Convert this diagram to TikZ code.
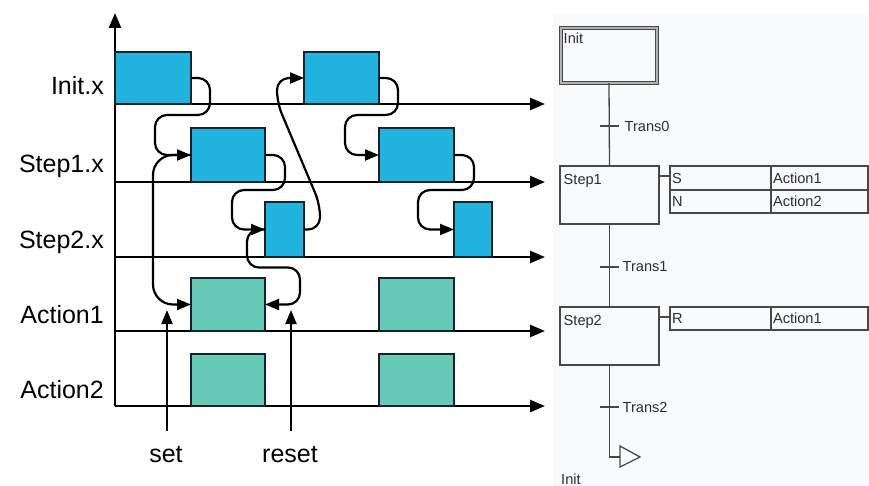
\documentclass[tikz,border=0pt]{standalone}
\usepackage{fontspec}
\setmainfont{Liberation Sans}
\usetikzlibrary{arrows.meta}
\definecolor{pulse}{HTML}{22B4DE}
\definecolor{act}{HTML}{66C9B5}
\definecolor{edge}{HTML}{14232B}
\definecolor{panel}{HTML}{F8FAFC}
\definecolor{sfcline}{HTML}{484848}
\definecolor{sfctxt}{HTML}{2E2E2E}
\newcommand{\sigfont}{\fontsize{25pt}{30pt}\selectfont}
\newcommand{\sfcfont}{\fontsize{14.6pt}{17pt}\selectfont}
\begin{document}
\begin{tikzpicture}[x=1pt,y=-1pt,
  sig/.style={font=\sigfont, inner sep=0pt, text=black},
  axis/.style={line width=2.6pt, draw=black, -{Triangle[length=15pt,width=12pt]}},
  pulsebox/.style={draw=edge, line width=2.4pt, fill=pulse, anchor=south west,
                   inner sep=0pt, outer sep=0pt},
  actbox/.style={pulsebox, fill=act},
  flow/.style={line width=2.2pt, rounded corners=12pt,
               -{Triangle[length=14pt,width=11pt]}},
  sfc/.style={draw=sfcline, line width=1.3pt},
  sfct/.style={font=\sfcfont, text=sfctxt},
  stepbox/.style={draw=sfcline, line width=1.3pt, fill=panel, anchor=north west,
                  inner sep=0pt, outer sep=0pt},
  steplbl/.style={sfct, anchor=north west, inner xsep=3.5pt, inner ysep=8pt},
  cell/.style={draw=sfcline, line width=1.3pt, fill=panel, anchor=north west,
               inner xsep=2pt, inner ysep=0pt, outer sep=0pt, align=left, sfct},
  trl/.style={sfct, anchor=west, inner xsep=3.5pt, inner ysep=0pt}]
\useasboundingbox (0,0) rectangle (869,486);

% ---------------- timing chart ----------------
\coordinate (o)    at (115,406);
\coordinate (ytop) at (115,13);
\foreach \n/\y in {ax0/104, ax1/182, ax2/257, ax3/331, ax4/406}{
  \coordinate (\n s) at (115,\y);
  \coordinate (\n e) at (545,\y);
}
\draw[axis] (o) -- (ytop);
\foreach \n in {ax0,ax1,ax2,ax3,ax4}{
  \draw[axis] (\n s) -- (\n e);
}

% signal names
\node[sig, anchor=base east] (lInit)  at (104,95)  {Init.x};
\node[sig, anchor=base east] (lStep1) at (104,173) {Step1.x};
\node[sig, anchor=base east] (lStep2) at (104,248) {Step2.x};
\node[sig, anchor=base east] (lAct1)  at (104,323) {Action1};
\node[sig, anchor=base east] (lAct2)  at (104,398) {Action2};

% step activity pulses
\node[pulsebox, minimum width=76pt, minimum height=52pt] (i1) at (115,104) {};
\node[pulsebox, minimum width=75pt, minimum height=52pt] (i2) at (304,104) {};
\node[pulsebox, minimum width=74pt, minimum height=54pt] (s1) at (191,182) {};
\node[pulsebox, minimum width=75pt, minimum height=54pt] (s2) at (379,182) {};
\node[pulsebox, minimum width=39pt, minimum height=55pt] (t1) at (265,257) {};
\node[pulsebox, minimum width=38pt, minimum height=55pt] (t2) at (454,257) {};

% action pulses
\node[actbox, minimum width=74pt, minimum height=53pt] (a1) at (191,331) {};
\node[actbox, minimum width=75pt, minimum height=53pt] (a2) at (379,331) {};
\node[actbox, minimum width=74pt, minimum height=52pt] (b1) at (191,406) {};
\node[actbox, minimum width=75pt, minimum height=52pt] (b2) at (379,406) {};

% causal links between pulses
\draw[flow] (i1.east) -- ++(19,0) -- ++(0,37) -- ++(-55,0) |- (s1.west);
\draw[flow] (i2.east) -- ++(19,0) -- ++(0,37) -- ++(-53,0) |- (s2.west);
\draw[flow] (s1.east) -- ++(20,0) -- ++(0,35) -- ++(-53,0) |- (t1.west);
\draw[flow] (s2.east) -- ++(20,0) -- ++(0,35) -- ++(-56,0) |- (t2.west);
\draw[flow] (t1.east) -- ++(16,0) -- ++(0,-25) -- ++(-43,-102) |- (i2.west);
\draw[flow, rounded corners=20pt] (s1.west) -- ++(-38,0) |- (a1.west);
\draw[flow] (t1.west) -- ++(-18,0) -- ++(0,38) -- ++(53,0) |- (a1.east);

% set / reset markers
\node[sig, anchor=base] (setl)   at (166,462) {set};
\node[sig, anchor=base] (resetl) at (290,462) {reset};
\coordinate (settip)   at (167,310);
\coordinate (resettip) at (291,310);
\draw[flow] ([yshift=15pt]setl.north -| settip) -- (settip);
\draw[flow] ([yshift=15pt]resetl.north -| resettip) -- (resettip);

% ---------------- SFC ----------------
\fill[panel] (553,15) rectangle (869,486);

\node[stepbox, line width=0.9pt, double=gray!60, double distance=2.4pt,
      minimum width=96pt, minimum height=55pt,
      label={[sfct, anchor=north west, inner xsep=2.5pt, inner ysep=5pt]north west:Init}]
      (init) at (561,28) {};
\node[stepbox, minimum width=99pt, minimum height=58pt,
      label={[steplbl]north west:Step1}] (st1) at (560,166) {};
\node[stepbox, minimum width=99pt, minimum height=58pt,
      label={[steplbl]north west:Step2}] (st2) at (560,307) {};

% action blocks
\node[cell, text width=97pt, minimum height=24pt] (c11) at (670,166) {S};
\node[cell, text width=93pt, minimum height=24pt] (c12) at (771,166) {Action1};
\node[cell, text width=97pt, minimum height=23pt] (c21) at (670,190) {N};
\node[cell, text width=93pt, minimum height=23pt] (c22) at (771,190) {Action2};
\node[cell, text width=97pt, minimum height=23pt] (r1)  at (670,307) {R};
\node[cell, text width=93pt, minimum height=23pt] (r2)  at (771,307) {Action1};

\draw[sfc] ([yshift=-10pt]st1.north east) -- ([yshift=-10pt]c11.north west);
\draw[sfc] ([yshift=-10pt]st2.north east) -- ([yshift=-10pt]r1.north west);

% step links and transitions
\draw[sfc] (init.south) -- (st1.north);
\draw[sfc] (st1.south) -- (st2.north);
\coordinate (tr0) at (609.5,126);
\coordinate (tr1) at (609.5,267);
\coordinate (tr2) at (609.5,407);
\draw[sfc] ([xshift=-10pt]tr0) -- ([xshift=9pt]tr0) node[trl, xshift=2pt] (tr0l) {Trans0};
\draw[sfc] ([xshift=-10pt]tr1) -- ([xshift=9pt]tr1) node[trl] (tr1l) {Trans1};
\draw[sfc] ([xshift=-10pt]tr2) -- ([xshift=9pt]tr2) node[trl] (tr2l) {Trans2};

% jump back to the initial step
\coordinate (jmp) at (620,457);
\draw[sfc] (st2.south) |- (jmp);
\draw[sfc, fill=panel, line join=miter] (jmp) ++(0,-11) -- ++(20,11) -- ++(-20,10) -- cycle;
\node[sfct, anchor=base west, inner sep=0pt] (jmpl) at (561,484) {Init};
\end{tikzpicture}
\end{document}
